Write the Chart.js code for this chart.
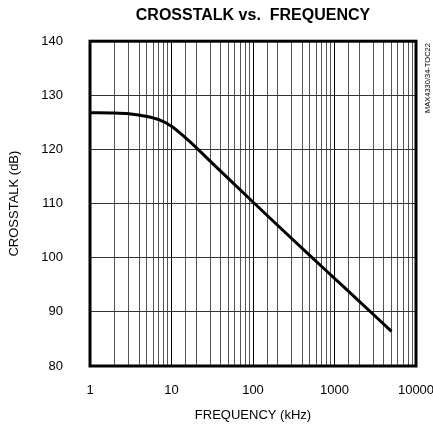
<!DOCTYPE html>
<html>
<head>
<meta charset="utf-8">
<script src="https://cdn.jsdelivr.net/npm/chart.js@4/dist/chart.umd.min.js"></script>
<style>
  html, body { margin: 0; padding: 0; background: #fff; }
  canvas { display: block; }
</style>
</head>
<body>
<canvas id="c" width="433" height="428"></canvas>
<script>
// ---- data ----
const frequencyKHz = [1, 2, 3, 5, 7, 10, 15, 20, 30, 50, 100, 200, 500, 1000, 2000, 5000];
const crosstalkDB  = [126.8, 126.75, 126.6, 126.1, 125.5, 124.3, 122.1, 120.4, 117.8, 114.6, 110.3, 106.0, 100.4, 96.2, 92.0, 86.4];
const yTicks = [80, 90, 100, 110, 120, 130, 140];
const xTickLabels = [1, 10, 100, 1000, 10000];
const chartTitle = 'CROSSTALK vs.  FREQUENCY';
const xTitle = 'FREQUENCY (kHz)';
const yTitle = 'CROSSTALK (dB)';
const sideNote = 'MAX4330/34-TOC22';

const FONT = "'Liberation Sans', Arial, Helvetica, sans-serif";
Chart.defaults.font.family = FONT;
Chart.defaults.color = '#000';

const frame = {
  id: 'frame',
  afterLayout(chart) {
    // centre the title over the plot area
    if (chart.titleBlock) {
      chart.titleBlock.left = chart.chartArea.left;
      chart.titleBlock.right = chart.chartArea.right;
    }
  },
  afterDraw(chart) {
    const {ctx, chartArea: a} = chart;
    ctx.save();
    ctx.strokeStyle = '#000';
    ctx.lineWidth = 3;
    ctx.strokeRect(a.left, a.top, a.right - a.left, a.bottom - a.top);
    // side note
    ctx.fillStyle = '#000';
    ctx.font = '7.5px ' + FONT;
    ctx.textAlign = 'left';
    ctx.textBaseline = 'middle';
    ctx.translate(428, 113);
    ctx.rotate(-Math.PI / 2);
    ctx.fillText(sideNote, 0, 0);
    ctx.restore();
  }
};

const isDecade = v => Math.abs(Math.log10(v) - Math.round(Math.log10(v))) < 1e-9;

new Chart(document.getElementById('c'), {
  type: 'line',
  data: {
    datasets: [{
      data: frequencyKHz.map((f, i) => ({x: f, y: crosstalkDB[i]})),
      borderColor: '#000',
      borderWidth: 3,
      borderCapStyle: 'butt',
      pointRadius: 0,
      cubicInterpolationMode: 'monotone',
      fill: false
    }]
  },
  options: {
    responsive: false,
    animation: false,
    devicePixelRatio: 1,
    layout: { padding: { left: 0, right: 17, top: 0, bottom: 0 } },
    plugins: {
      legend: { display: false },
      tooltip: { enabled: false },
      title: {
        display: true,
        text: chartTitle,
        color: '#000',
        font: { size: 16, weight: 'bold', family: FONT },
        padding: { top: 6, bottom: 16 }
      }
    },
    scales: {
      x: {
        type: 'logarithmic',
        min: 1,
        max: 10000,
        border: { display: false },
        grid: {
          drawTicks: false,
          lineWidth: 1,
          color: ctx => (ctx.tick && isDecade(ctx.tick.value)) ? '#000' : '#555'
        },
        ticks: {
          autoSkip: false,
          maxRotation: 0,
          padding: 17,
          font: { size: 13 },
          callback: v => xTickLabels.includes(Number(v)) ? String(v) : ''
        },
        title: {
          display: true,
          text: xTitle,
          font: { size: 13 },
          padding: { top: 0, bottom: 5 }
        },
        afterFit(s) { s.height = 62; s.paddingLeft = 0; s.paddingRight = 0; }
      },
      y: {
        min: 80,
        max: 140,
        border: { display: false },
        afterBuildTicks(s) { s.ticks = yTicks.map(v => ({value: v})); },
        grid: { drawTicks: false, color: '#333', lineWidth: 1 },
        ticks: { padding: 27, font: { size: 13 } },
        title: {
          display: true,
          text: yTitle,
          font: { size: 13 },
          padding: { top: 7, bottom: 0 }
        },
        afterFit(s) { s.width = 90; }
      }
    }
  },
  plugins: [frame]
});
</script>
</body>
</html>
